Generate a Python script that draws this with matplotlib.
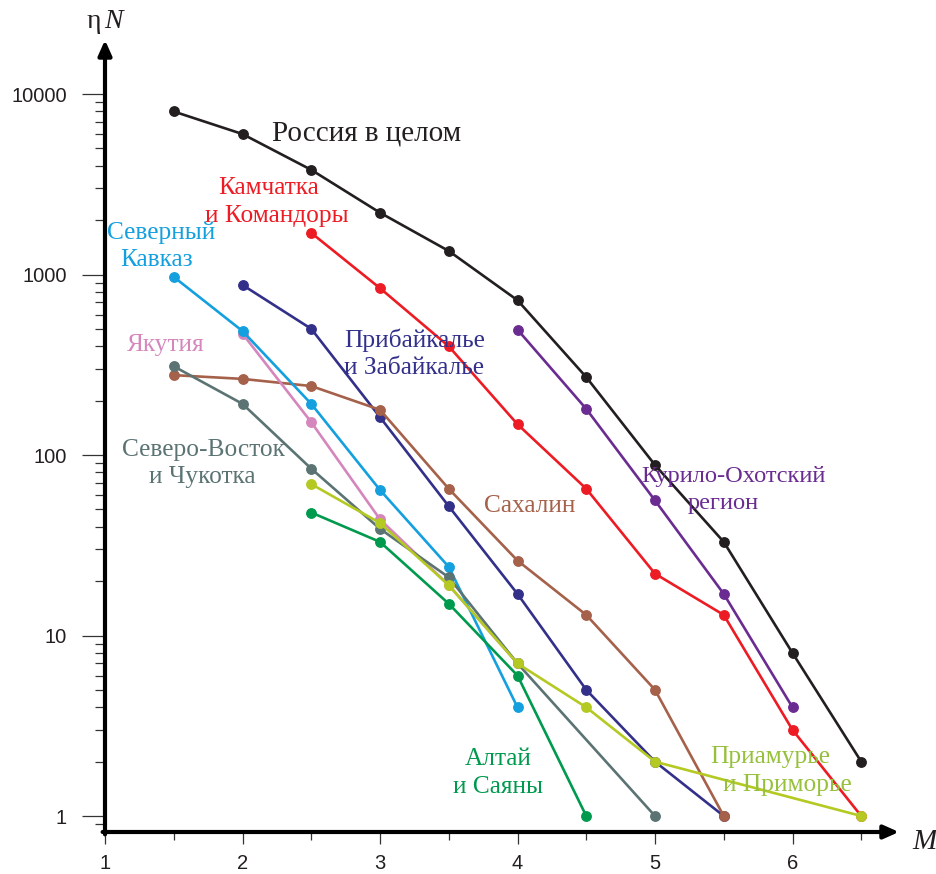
import matplotlib
matplotlib.use("Agg")
import matplotlib.pyplot as plt
from matplotlib.ticker import FixedLocator, NullFormatter

# ---- data ----
russia_x = [1.5, 2, 2.5, 3, 3.5, 4, 4.5, 5, 5.5, 6, 6.5]
russia_y = [8000, 6000, 3800, 2200, 1350, 720, 270, 88, 33, 8, 2]

kamch_x = [2.5, 3, 3.5, 4, 4.5, 5, 5.5, 6, 6.5]
kamch_y = [1700, 840, 400, 148, 65, 22, 13, 3, 1]

kuril_x = [4, 4.5, 5, 5.5, 6]
kuril_y = [495, 180, 56, 17, 4]

pribaik_x = [2, 2.5, 3, 3.5, 4, 4.5, 5, 5.5]
pribaik_y = [875, 500, 162, 52, 17, 5, 2, 1]

sakhalin_x = [1.5, 2, 2.5, 3, 3.5, 4, 4.5, 5, 5.5]
sakhalin_y = [277, 264, 241, 178, 65, 26, 13, 5, 1]

yakut_x = [2, 2.5, 3, 3.5, 4]
yakut_y = [470, 152, 44, 19, 7]

kavkaz_x = [1.5, 2, 2.5, 3, 3.5, 4]
kavkaz_y = [970, 486, 192, 64, 24, 4]

sevvost_x = [1.5, 2, 2.5, 3, 3.5, 4, 5]
sevvost_y = [310, 192, 84, 39, 21, 7, 1]

altai_x = [2.5, 3, 3.5, 4, 4.5]
altai_y = [48, 33, 15, 6, 1]

priam_x = [2.5, 3, 3.5, 4, 4.5, 5, 6.5]
priam_y = [69, 42, 19, 7, 4, 2, 1]

x_ticks = [1, 2, 3, 4, 5, 6]
y_ticks = [1, 10, 100, 1000, 10000]
y_ticklabels = ["1", "10", "100", "1000", "10000"]

series = [
    (russia_x, russia_y, "#231f20"),
    (kamch_x, kamch_y, "#ed1c24"),
    (kuril_x, kuril_y, "#6b2c91"),
    (pribaik_x, pribaik_y, "#33308a"),
    (sakhalin_x, sakhalin_y, "#a5614a"),
    (yakut_x, yakut_y, "#d486bd"),
    (kavkaz_x, kavkaz_y, "#14a0de"),
    (sevvost_x, sevvost_y, "#5b7373"),
    (altai_x, altai_y, "#009a4e"),
    (priam_x, priam_y, "#b5c923"),
]

# label lines: text, centre (x, y) in pixels of the reference layout, colour, size
label_lines = [
    ("Россия в целом", 367, 133, "#231f20", 21),
    ("Камчатка", 269, 188, "#ed1c24", 18.3),
    ("и Командоры", 277, 216, "#ed1c24", 18.3),
    ("Северный", 161, 233, "#14a0de", 18.3),
    ("Кавказ", 157, 260, "#14a0de", 18.3),
    ("Якутия", 166, 345, "#d486bd", 18.3),
    ("Прибайкалье", 415, 340, "#33308a", 18.3),
    ("и Забайкалье", 414, 368, "#33308a", 18.3),
    ("Северо-Восток", 203, 450, "#5b7373", 18.3),
    ("и Чукотка", 202, 477, "#5b7373", 18.3),
    ("Сахалин", 530, 506, "#a5614a", 18.3),
    ("Курило-Охотский", 733, 477, "#6b2c91", 17.6),
    ("регион", 723, 504, "#6b2c91", 17.6),
    ("Алтай", 498, 759, "#009a4e", 18.3),
    ("и Саяны", 498, 787, "#009a4e", 18.3),
    ("Приамурье", 770, 757, "#97c13c", 18.3),
    ("и Приморье", 787, 785, "#97c13c", 18.3),
]

W, H = 936, 874
fig = plt.figure(figsize=(W / 100, H / 100), dpi=100)

left_px, right_px, bottom_px, top_px = 105, 899, 832, 40
ax = fig.add_axes([left_px / W, 1 - bottom_px / H,
                   (right_px - left_px) / W, (bottom_px - top_px) / H])

px_per_x = 137.5
px_per_dec = 180.5
ax.set_xlim(1, 1 + (right_px - left_px) / px_per_x)
ax.set_yscale("log")
ax.set_ylim(10 ** (-(bottom_px - 816) / px_per_dec), 10 ** ((816 - top_px) / px_per_dec))

for xs, ys, c in series:
    ax.plot(xs, ys, color=c, lw=1.9, marker="o", ms=6.8, mec=c, mfc=c,
            clip_on=False, zorder=3)

serif = ["Liberation Serif", "DejaVu Serif"]
for txt, xp, yp, c, fs in label_lines:
    fig.text(xp / W, 1 - yp / H, txt, color=c, fontsize=fs, family=serif,
             ha="center", va="center", zorder=5)

for s in ax.spines.values():
    s.set_visible(False)

arrow = dict(arrowstyle="-|>,head_length=0.45,head_width=0.2", lw=3.0, color="black",
             shrinkA=0, shrinkB=0, mutation_scale=20)
ax.annotate("", xy=(1, 0), xytext=(-0.003, 0), xycoords="axes fraction",
            arrowprops=arrow, annotation_clip=False)
ax.annotate("", xy=(0, 1), xytext=(0, -0.003), xycoords="axes fraction",
            arrowprops=arrow, annotation_clip=False)

ax.set_xticks(x_ticks)
ax.set_xticklabels([str(t) for t in x_ticks])
ax.xaxis.set_minor_locator(FixedLocator([1.5, 2.5, 3.5, 4.5, 5.5, 6.5]))
ax.xaxis.set_minor_formatter(NullFormatter())
ax.tick_params(axis="x", which="major", length=8.5, width=0.9, color="#333333",
               labelsize=14.5, pad=7, direction="out")
ax.tick_params(axis="x", which="minor", length=6, width=0.9, color="#333333", direction="out")

ax.set_yticks(y_ticks)
ax.set_yticklabels(y_ticklabels)
minor = [m * 10 ** e for e in range(-1, 5) for m in range(2, 10)]
ax.yaxis.set_minor_locator(FixedLocator(minor))
ax.yaxis.set_minor_formatter(NullFormatter())
ax.tick_params(axis="y", which="major", length=16.5, width=0.9, color="#333333",
               labelsize=14.5, pad=11, direction="out")
ax.tick_params(axis="y", which="minor", length=7.5, width=0.9, color="#333333", direction="out")
for lab in ax.get_xticklabels() + ax.get_yticklabels():
    lab.set_family(["Liberation Sans", "DejaVu Sans"])
    lab.set_color("#231f20")

fig.text(94 / W, 1 - 28 / H, "η", fontsize=20, family=serif, ha="center", va="baseline",
         color="#231f20")
fig.text(113 / W, 1 - 28 / H, "N", fontsize=20, family=serif, style="italic",
         ha="center", va="baseline", color="#231f20")
fig.text(924 / W, 1 - 842 / H, "M", fontsize=21, family=serif, style="italic",
         ha="center", va="center", color="#231f20")

fig.savefig("out.png", dpi=100)
